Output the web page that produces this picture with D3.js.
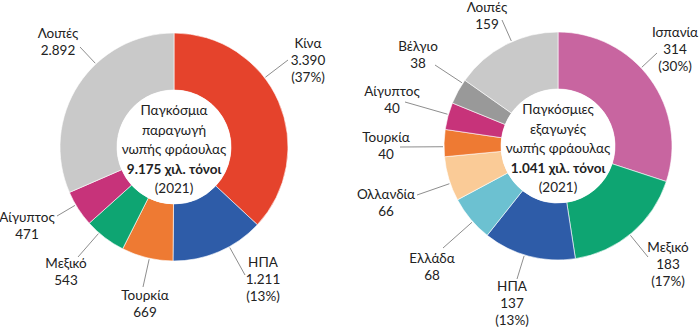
<!DOCTYPE html>
<html><head><meta charset="utf-8">
<script src="https://cdn.jsdelivr.net/npm/d3@7"></script>
<style>
body{margin:0;background:#fff;}
svg text{font-family:Lato,"Open Sans",sans-serif;font-size:13.5px;fill:#222;}
</style></head><body>
<svg id="c" width="700" height="328"></svg>
<script>
// Left donut: production
const prodCategories = ["Κίνα","ΗΠΑ","Τουρκία","Μεξικό","Αίγυπτος","Λοιπές"];
const prodValues = [3390,1211,669,543,471,2892];
const prodValueLabels = ["3.390","1.211","669","543","471","2.892"];
const prodPctLabels = ["(37%)","(13%)","","","",""];
const prodColors = ["#E5432C","#2E5CA8","#EE7A33","#0EA572","#C7337A","#C9C9C9"];
const prodCenter = ["Παγκόσμια","παραγωγή","νωπής φράουλας","9.175 χιλ. τόνοι","(2021)"];

// Right donut: exports
const expCategories = ["Ισπανία","Μεξικό","ΗΠΑ","Ελλάδα","Ολλανδία","Τουρκία","Αίγυπτος","Βέλγιο","Λοιπές"];
const expValues = [314,183,137,68,66,40,40,38,159];
const expValueLabels = ["314","183","137","68","66","40","40","38","159"];
const expPctLabels = ["(30%)","(17%)","(13%)","","","","","",""];
const expColors = ["#C865A0","#0EA572","#2E5CA8","#6CC1D1","#FACB97","#EE7A33","#C7337A","#999999","#C9C9C9"];
const expCenter = ["Παγκόσμιες","εξαγωγές","νωπής φράουλας","1.041 χιλ. τόνοι","(2021)"];

// label layout (text anchor point of first line, leader start point)
const prodLabelPos = [
  {x:308,y:48, lx:288,ly:60},
  {x:263,y:267, lx:245,ly:275},
  {x:145,y:300, lx:143,ly:287},
  {x:66,y:268, lx:78,ly:257},
  {x:27,y:222, lx:57,ly:216},
  {x:58,y:38, lx:80,ly:47}
];
const expLabelPos = [
  {x:675,y:37, lx:657,ly:53},
  {x:668,y:252, lx:648,ly:257},
  {x:512,y:291, lx:517,ly:279},
  {x:432,y:263, lx:443,ly:248},
  {x:386,y:199, lx:417,ly:195},
  {x:386,y:142, lx:400,ly:147},
  {x:392,y:96, lx:405,ly:102},
  {x:418,y:51, lx:435,ly:65},
  {x:487,y:12, lx:502,ly:20}
];

const svg = d3.select("#c");

function donut(cx, cy, cats, vals, vlabels, plabels, colors, center, pos){
  const R = 114, r = 57;
  const g = svg.append("g").attr("transform",`translate(${cx},${cy})`);
  const pie = d3.pie().sort(null).value(d=>d.v);
  const data = cats.map((c,i)=>({c, v:vals[i], vl:vlabels[i], pl:plabels[i], col:colors[i], p:pos[i]}));
  const arcs = pie(data);
  const arc = d3.arc().innerRadius(r).outerRadius(R);
  g.selectAll("path.s").data(arcs).enter().append("path")
    .attr("d",arc).attr("fill",d=>d.data.col)
    .attr("stroke","#fff").attr("stroke-width",0.6);
  arcs.forEach(a=>{
    const p = a.data.p;
    const lxr = p.lx-cx, lyr = p.ly-cy;
    let t = Math.atan2(lxr, -lyr); if (t<0) t+=2*Math.PI;
    const a2 = Math.max(a.startAngle+0.03, Math.min(a.endAngle-0.03, t));
    const rr = R+1;
    const ex = rr*Math.sin(a2), ey = -rr*Math.cos(a2);
    g.append("line").attr("x1",lxr).attr("y1",lyr).attr("x2",ex).attr("y2",ey)
      .attr("stroke","#808080").attr("stroke-width",0.9);
    const lines = [a.data.c, a.data.vl]; if (a.data.pl) lines.push(a.data.pl);
    const t0 = svg.append("text").attr("text-anchor","middle");
    lines.forEach((s,i)=>t0.append("tspan").attr("x",p.x).attr("y",p.y+i*16.8).text(s));
  });
  g.append("circle").attr("r",r).attr("fill","#fff");
  center.forEach((s,i)=>{
    g.append("text").attr("text-anchor","middle").attr("x",0).attr("y",-32+i*19.5)
      .style("font-weight", i===3?"bold":"normal").text(s);
  });
}

donut(174,147,prodCategories,prodValues,prodValueLabels,prodPctLabels,prodColors,prodCenter,prodLabelPos);
donut(558,146,expCategories,expValues,expValueLabels,expPctLabels,expColors,expCenter,expLabelPos);
</script>
</body></html>
